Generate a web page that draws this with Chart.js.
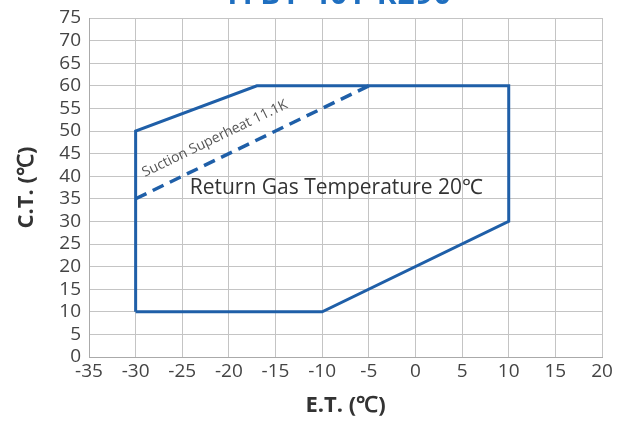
<!DOCTYPE html>
<html>
<head>
<meta charset="utf-8">
<script src="https://cdn.jsdelivr.net/npm/chart.js@4.4.1/dist/chart.umd.min.js"></script>
<style>
  html, body { margin: 0; padding: 0; background: #fff; }
  #wrap { position: relative; width: 619px; height: 421px; overflow: hidden; }
  #title { position: absolute; top: -28px; left: 28px; width: 619px; text-align: center;
           font: bold 30px 'Open Sans', sans-serif; color: #1f6fc0; letter-spacing: 1px; }
</style>
</head>
<body>
<div id="wrap">
  <div id="title">YFBY-40Y R290</div>
  <canvas id="chart" width="619" height="421"></canvas>
</div>
<script>
// envelope (E.T. / C.T.)
const envelopeX = [-30, -30, -17, 10, 10, -10, -30];
const envelopeY = [10, 50, 60, 60, 30, 10, 10];

// suction superheat line
const superheatX = [-30, -5];
const superheatY = [35, 60];

const xTicks = [-35, -30, -25, -20, -15, -10, -5, 0, 5, 10, 15, 20];
const yTicks = [0, 5, 10, 15, 20, 25, 30, 35, 40, 45, 50, 55, 60, 65, 70, 75];

const superheatLabel = 'Suction Superheat 11.1K';
const returnGasLabel = 'Return Gas Temperature 20℃';

const blue = '#1f5fa8';
const toPoints = (xs, ys) => xs.map((x, i) => ({ x: x, y: ys[i] }));

// draws the two text notes, positioned via scales
const notesPlugin = {
    id: 'notes',
    afterDatasetsDraw(chart) {
        const { ctx, scales: { x, y } } = chart;
        ctx.save();
        // rotated label along the dashed line
        const x0 = x.getPixelForValue(superheatX[0]), y0 = y.getPixelForValue(superheatY[0]);
        const x1 = x.getPixelForValue(superheatX[1]), y1 = y.getPixelForValue(superheatY[1]);
        const ang = Math.atan2(y1 - y0, x1 - x0);
        ctx.translate(x.getPixelForValue(-21.5), y.getPixelForValue(48.3));
        ctx.rotate(ang);
        ctx.font = "14px 'Open Sans', sans-serif";
        ctx.fillStyle = '#555';
        ctx.textAlign = 'center';
        ctx.textBaseline = 'middle';
        ctx.fillText(superheatLabel, 0, 0);
        ctx.restore();

        ctx.save();
        ctx.font = "21px 'Open Sans', sans-serif";
        ctx.fillStyle = '#333';
        ctx.textAlign = 'left';
        ctx.textBaseline = 'middle';
        ctx.fillText(returnGasLabel, x.getPixelForValue(-24.2), y.getPixelForValue(37.3));
        ctx.restore();
    }
};

new Chart(document.getElementById('chart'), {
    type: 'scatter',
    data: {
        datasets: [{
            data: toPoints(envelopeX, envelopeY),
            showLine: true,
            borderColor: blue,
            borderWidth: 3,
            pointRadius: 0,
            tension: 0
        }, {
            data: toPoints(superheatX, superheatY),
            showLine: true,
            borderColor: blue,
            borderWidth: 3.5,
            borderDash: [12, 7],
            pointRadius: 0,
            tension: 0
        }]
    },
    options: {
        responsive: false,
        animation: false,
        layout: { padding: { top: 18, right: 17, left: 0, bottom: 0 } },
        plugins: { legend: { display: false }, tooltip: { enabled: false } },
        scales: {
            x: {
                type: 'linear',
                min: -35,
                max: 20,
                afterBuildTicks: s => { s.ticks = xTicks.map(v => ({ value: v })); },
                afterFit: s => { s.height = 64; },
                grid: { color: '#c4c4c4', lineWidth: 1, drawTicks: false },
                border: { color: '#aaa' },
                ticks: { color: '#444', padding: 3, maxRotation: 0, autoSkip: false,
                         font: { family: "'Open Sans', sans-serif", size: 19 } },
                title: { display: true, text: 'E.T. (℃)', color: '#333', padding: { top: 2, bottom: 2 },
                         font: { family: "'Open Sans', sans-serif", size: 22, weight: 'bold' } }
            },
            y: {
                type: 'linear',
                min: 0,
                max: 75,
                afterBuildTicks: s => { s.ticks = yTicks.map(v => ({ value: v })); },
                afterFit: s => { s.width = 89; },
                grid: { color: '#c4c4c4', lineWidth: 1, drawTicks: false },
                border: { color: '#aaa' },
                ticks: { color: '#444', padding: 8, autoSkip: false,
                         font: { family: "'Open Sans', sans-serif", size: 19, lineHeight: 1 } },
                title: { display: true, text: 'C.T. (℃)', color: '#333', padding: { top: 14, bottom: 4 },
                         font: { family: "'Open Sans', sans-serif", size: 22, weight: 'bold' } }
            }
        }
    },
    plugins: [notesPlugin]
});
</script>
</body>
</html>
